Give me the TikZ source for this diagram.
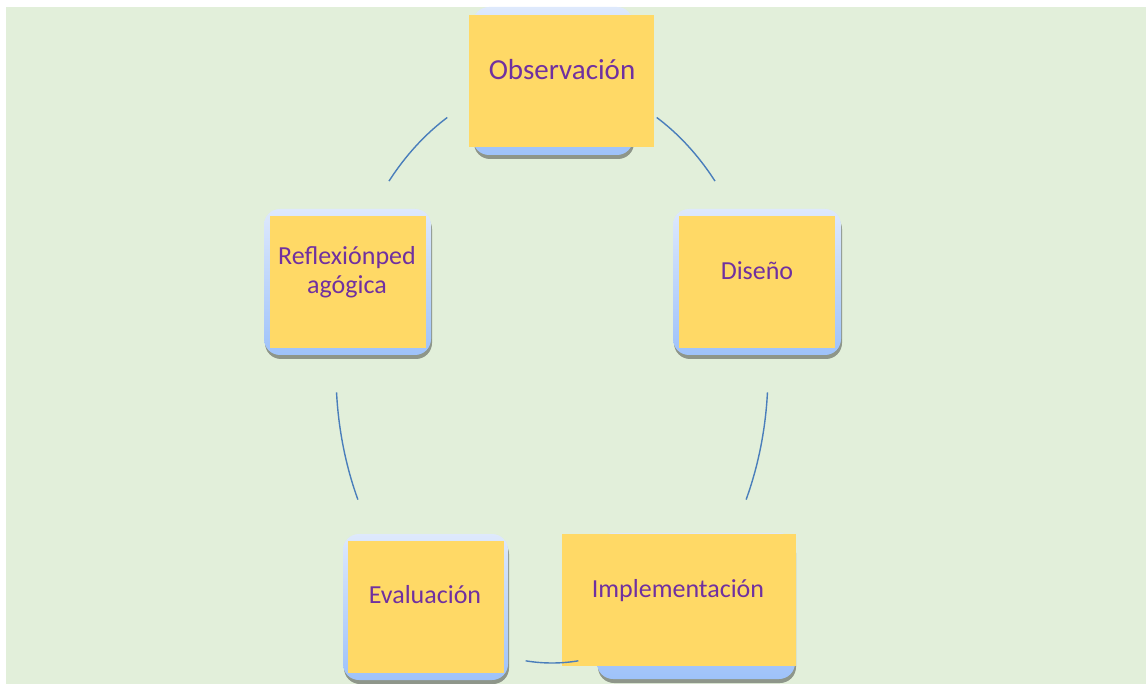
\documentclass[tikz,border=0pt]{standalone}
\usepackage{fontspec}
\setmainfont{Carlito}
\definecolor{bg}{HTML}{E2EFDA}
\definecolor{ylw}{HTML}{FFD966}
\definecolor{txt}{HTML}{7030A0}
\definecolor{arcc}{HTML}{4A7EBB}
\definecolor{btop}{HTML}{DEE9FC}
\definecolor{bbot}{HTML}{9EC2FA}
\definecolor{shd}{HTML}{8E968A}
\tikzset{
  cyc/.style={draw=arcc, line width=1.4pt},
  lbl/.style={text=txt, anchor=base, inner sep=0pt, font=\fontsize{26}{29}\selectfont},
  ybox/.style={fill=ylw, draw=none},
}
\newcommand\cyclebox[4]{%
  \fill[shd,rounded corners=16pt] (#1+1,#2+4) rectangle (#3+1,#4+4);
  \shade[top color=btop,bottom color=bbot,rounded corners=16pt] (#1,#2) rectangle (#3,#4);
}
\begin{document}
\begin{tikzpicture}[x=1pt,y=-1pt]
\useasboundingbox (0,0) rectangle (1146,684);
\fill[bg] (6,7) rectangle (1146,684);
% rounded backing boxes
\cyclebox{473}{7}{633}{155}
\cyclebox{673}{209}{841}{355}
\cyclebox{597}{533}{795}{679}
\cyclebox{343}{534}{508}{680}
\cyclebox{264}{209}{431}{355}
% yellow squares
\path[ybox] (469,15) rectangle (654,147);
\path[ybox] (679,216) rectangle (835,348);
\path[ybox] (562,534) rectangle (796,666);
\path[ybox] (348,541) rectangle (504,673);
\path[ybox] (270,216) rectangle (426,348);
% labels
\node[lbl, font=\fontsize{29}{32}\selectfont] (obs) at (562,80) {Observación};
\node[lbl] (dis) at (757,280) {Diseño};
\node[lbl] (imp) at (678,597) {Implementación};
\node[lbl] (eva) at (425,603) {Evaluación};
\node[lbl] (ref1) at (347,265) {Reflexiónped};
\node[lbl] (ref2) at (347,294) {agógica};
% cycle arcs
\coordinate (c) at (552,372);
\draw[cyc] plot[domain=41:61, samples=30] ({552+216*cos(\x)},{372-291*sin(\x)});
\draw[cyc] plot[domain=119:139, samples=30] ({552+216*cos(\x)},{372-291*sin(\x)});
\draw[cyc] plot[domain=-26:-4, samples=30] ({552+216*cos(\x)},{372-291*sin(\x)});
\draw[cyc] plot[domain=184:206, samples=30] ({552+216*cos(\x)},{372-291*sin(\x)});
\draw[cyc] plot[domain=-97:-83, samples=30] ({552+216*cos(\x)},{372-291*sin(\x)});
\end{tikzpicture}
\end{document}
